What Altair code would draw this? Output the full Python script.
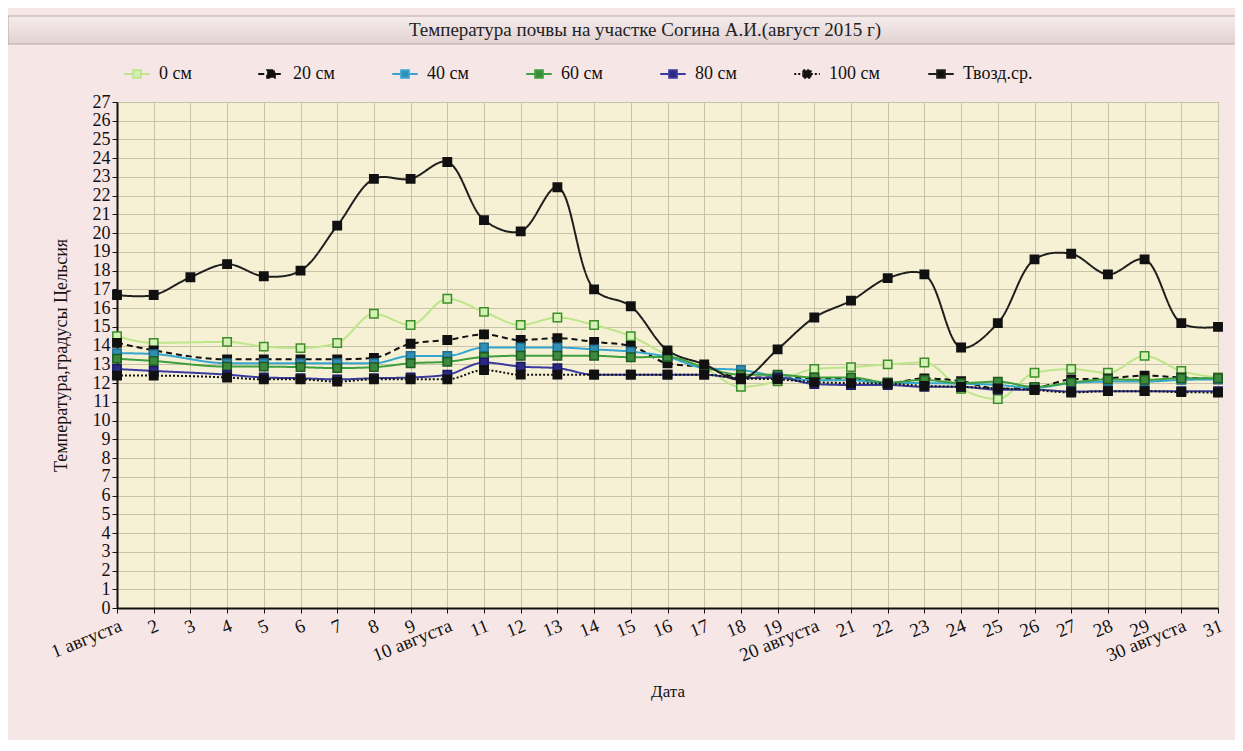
import json
import altair as alt
import pandas as pd

days = list(range(1, 32))
N = None

s0 = [14.5, 14.15, N, 14.2, 13.95, 13.87, 14.14, 15.7, 15.1, 16.5, 15.8, 15.1, 15.5, 15.1, 14.5,
      13.5, 12.8, 11.8, 12.1, 12.75, 12.85, 13.0, 13.1, 11.7, 11.15, 12.55, 12.75, 12.55, 13.45, 12.65, 12.3]
s20 = [14.15, 13.75, N, 13.27, 13.27, 13.27, 13.27, 13.35, 14.1, 14.3, 14.6, 14.3, 14.4, 14.2, 13.98,
       13.05, 12.85, 12.3, 12.3, 12.25, 12.25, 12.0, 12.25, 12.1, 11.7, 11.75, 12.2, 12.25, 12.4, 12.3, 12.2]
s40 = [13.6, 13.55, N, 13.06, 13.06, 13.06, 13.06, 13.06, 13.45, 13.45, 13.9, 13.9, 13.9, 13.8, 13.68,
       13.4, 12.8, 12.7, 12.35, 12.15, 12.15, 12.0, 12.0, 11.97, 11.9, 11.75, 12.0, 12.08, 12.08, 12.17, 12.2]
s60 = [13.3, 13.18, N, 12.88, 12.88, 12.85, 12.8, 12.85, 13.06, 13.14, 13.4, 13.46, 13.46, 13.46, 13.38,
       13.4, 12.85, 12.45, 12.45, 12.3, 12.3, 12.03, 12.17, 12.0, 12.08, 11.8, 12.03, 12.2, 12.17, 12.26, 12.26]
s80 = [12.75, 12.65, N, 12.45, 12.3, 12.26, 12.2, 12.26, 12.3, 12.45, 13.1, 12.88, 12.8, 12.45, 12.45,
       12.45, 12.45, 12.26, 12.3, 11.95, 11.9, 11.9, 11.8, 11.8, 11.65, 11.65, 11.55, 11.57, 11.57, 11.57, 11.57]
s100 = [12.4, 12.4, N, 12.3, 12.2, 12.2, 12.08, 12.2, 12.2, 12.2, 12.7, 12.45, 12.45, 12.45, 12.45,
        12.45, 12.45, 12.25, 12.2, 12.05, 12.0, 11.97, 11.85, 11.8, 11.72, 11.63, 11.5, 11.57, 11.57, 11.52, 11.5]
tair = [16.7, 16.7, 17.65, 18.35, 17.7, 18.0, 20.4, 22.9, 22.9, 23.8, 20.7, 20.1, 22.45, 17.0, 16.1,
        13.75, 13.0, 12.2, 13.8, 15.5, 16.4, 17.6, 17.8, 13.9, 15.2, 18.6, 18.9, 17.8, 18.6, 15.2, 15.0]

series_names = ["0 см", "20 см", "40 см", "60 см", "80 см", "100 см", "Твозд.ср."]
series_vals = [s0, s20, s40, s60, s80, s100, tair]
line_colors = ["#bde68a", "#111111", "#35a6cf", "#3d9f3d", "#3a3aa0", "#111111", "#1e1e1e"]
marker_fill = ["#d4f0b4", "#111111", "#2f8fb5", "#3d8a3d", "#2a2a80", "#111111", "#111111"]
marker_stroke = ["#3c8c28", "#111111", "#206f8f", "#1f5a1f", "#1a1a60", "#111111", "#111111"]
dashes = [[1, 0], [6, 4], [1, 0], [1, 0], [1, 0], [2, 2], [1, 0]]

tick_labels = ["1 августа", "2", "3", "4", "5", "6", "7", "8", "9", "10 августа",
               "11", "12", "13", "14", "15", "16", "17", "18", "19", "20 августа",
               "21", "22", "23", "24", "25", "26", "27", "28", "29", "30 августа", "31"]

rows = []
for name, vals in zip(series_names, series_vals):
    for d, v in zip(days, vals):
        if v is not None:
            rows.append({"day": d, "value": v, "series": name})
df = pd.DataFrame(rows)

FONT = "Liberation Serif"
W, H = 1101, 506

x_enc = alt.X("day:Q",
              scale=alt.Scale(domain=[1, 31], nice=False, zero=False),
              axis=alt.Axis(values=days, title="Дата", labelAngle=-22,
                            labelAlign="right", labelBaseline="top",
                            labelExpr=json.dumps(tick_labels, ensure_ascii=False) + "[datum.value-1]",
                            labelFontSize=19, titleFontSize=17, titlePadding=18,
                            labelPadding=3, tickSize=5, labelFlush=False,
                            labelOverlap=False))
y_enc = alt.Y("value:Q",
              scale=alt.Scale(domain=[0, 27], nice=False),
              axis=alt.Axis(values=list(range(0, 28)), title="Температура,градусы Цельсия",
                            labelFontSize=18, titleFontSize=18, titlePadding=22,
                            tickSize=5, labelPadding=2, labelOverlap=False))

legend = alt.Legend(
    orient="none", legendX=6, legendY=-42, direction="horizontal", columns=7,
    gridAlign="all", columnPadding=25, labelFont=FONT, labelFontSize=18,
    labelColor="#111111", title=None,
    symbolType="M-1,0L-0.3,0M0.3,0L1,0M-0.3,-0.3L0.3,-0.3L0.3,0.3L-0.3,0.3Z",
    symbolSize=650, symbolStrokeWidth=2, symbolFillColor="#111111",
    labelOffset=8, padding=0,
)

color_enc = alt.Color("series:N", scale=alt.Scale(domain=series_names, range=line_colors),
                      sort=series_names, legend=legend)
dash_enc = alt.StrokeDash("series:N", scale=alt.Scale(domain=series_names, range=dashes),
                          sort=series_names, legend=legend)

base = alt.Chart(df)

lines_soil = base.transform_filter(alt.datum.series != "Твозд.ср.").mark_line(
    strokeWidth=2, interpolate="monotone").encode(
    x=x_enc, y=y_enc, color=color_enc, strokeDash=dash_enc,
)

line_air = base.transform_filter(alt.datum.series == "Твозд.ср.").mark_line(
    strokeWidth=2, interpolate="catmull-rom").encode(
    x=x_enc, y=y_enc, color=color_enc, strokeDash=dash_enc,
)

points = base.mark_point(shape="square", filled=True, size=70, strokeWidth=1.5, opacity=1).encode(
    x=x_enc, y=y_enc,
    fill=alt.Fill("series:N", scale=alt.Scale(domain=series_names, range=marker_fill), legend=None),
    stroke=alt.Stroke("series:N", scale=alt.Scale(domain=series_names, range=marker_stroke), legend=None),
)

title_df = pd.DataFrame({"t": ["Температура почвы на участке Согина А.И.(август 2015 г)"]})
title_bar = alt.Chart(title_df).mark_rect(
    color=alt.LinearGradient(gradient="linear",
                             stops=[alt.GradientStop(color="#f6ecec", offset=0),
                                    alt.GradientStop(color="#e2d2d2", offset=1)],
                             x1=0, x2=0, y1=0, y2=1),
    stroke="#b8a8a8", strokeWidth=1, clip=False).encode(
    x=alt.value(-109), x2=alt.value(1126), y=alt.value(-86), y2=alt.value(-58))
title_text = alt.Chart(title_df).mark_text(
    font=FONT, fontSize=19, color="#222222", align="center", baseline="middle", clip=False).encode(
    text="t:N", x=alt.value(528), y=alt.value(-72))

chart = alt.layer(lines_soil, line_air, points, title_bar, title_text).properties(
    width=W, height=H,
    background="#f7e6e6",
    padding={"left": 109, "top": 94, "right": 17, "bottom": 132},
    autosize=alt.AutoSizeParams(type="none"),
).configure_view(
    fill="#f6f0d4", stroke="#9a9a8a", strokeWidth=1
).configure_axis(
    labelFont=FONT, titleFont=FONT, labelColor="#111111", titleColor="#111111",
    titleFontWeight="normal", gridColor="#c8c2a8", gridWidth=1, gridOpacity=1,
    domainColor="#111111", domainWidth=2, tickColor="#111111",
)

chart.save("out.html", embed_options={"renderer": "svg", "actions": False})
